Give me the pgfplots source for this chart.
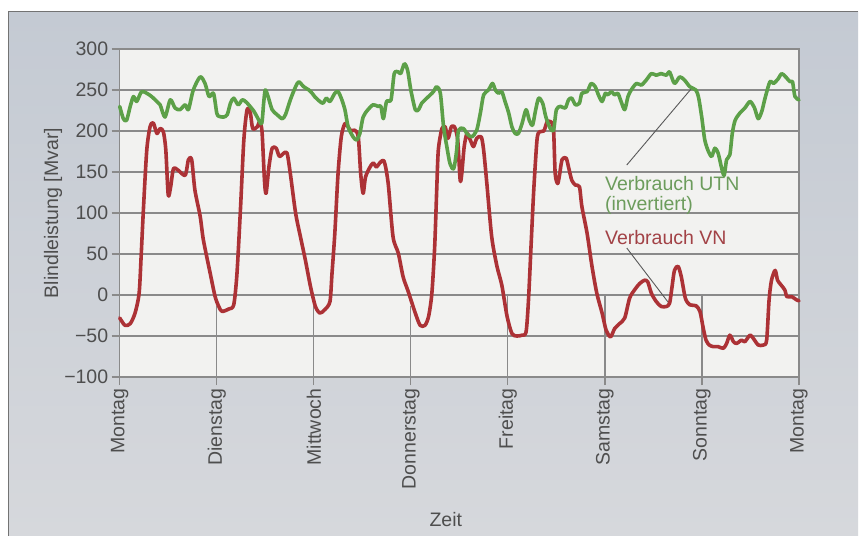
\documentclass[border=0pt]{standalone}
\usepackage{fontspec}
\setmainfont{Liberation Sans}
\usepackage{pgfplots}
\pgfplotsset{compat=1.18}
\definecolor{vngreen}{RGB}{92,160,72}
\definecolor{vnred}{RGB}{172,50,54}
\definecolor{gridc}{RGB}{138,138,138}
\definecolor{plotbg}{RGB}{242,242,240}
\definecolor{paneltop}{RGB}{196,202,211}
\definecolor{panelbot}{RGB}{214,216,220}
\definecolor{txtc}{RGB}{78,78,78}
\definecolor{gtext}{RGB}{108,156,92}
\definecolor{rtext}{RGB}{162,66,70}
\newcommand{\chartfont}{\fontsize{19.5bp}{22bp}\selectfont}
\begin{document}
\begin{tikzpicture}
\path[use as bounding box] (0,0) rectangle (861bp,536bp);
\fill[white] (0,0) rectangle (861bp,536bp);
\shade[top color=paneltop,bottom color=panelbot] (8bp,0) rectangle (858bp,524bp);
\draw[black!55, line width=1bp] (8bp,0) -- (8bp,524bp) -- (858bp,524bp);
\begin{axis}[
  at={(119.7bp,159bp)}, anchor=south west,
  scale only axis, width=679.3bp, height=328bp,
  xmin=0, xmax=168, ymin=-100, ymax=300,
  xtick={0,24,48,72,96,120,144,168},
  xticklabels={Montag,Dienstag,Mittwoch,Donnerstag,Freitag,Samstag,Sonntag,Montag},
  ytick={-100,-50,0,50,100,150,200,250,300},
  yticklabels={−100,−50,0,50,100,150,200,250,300},
  xtick pos=lower, ytick pos=left,
  ymajorgrids,
  grid style={gridc, line width=1.2bp},
  axis background/.style={fill=plotbg},
  tick align=outside, major tick length=8bp,
  axis line style={gridc, line width=1.2bp},
  tick style={gridc, line width=1.2bp},
  tick label style={color=txtc, font=\chartfont},
  xticklabel style={rotate=90, anchor=east},
  label style={color=txtc, font=\chartfont},
  ylabel={Blindleistung [Mvar]},
  ylabel style={at={(axis description cs:-0.0982,0.5)}, anchor=center, rotate=0},
  xlabel={Zeit},
  xlabel style={at={(axis description cs:0.480,-0.436)}, anchor=center},
  clip=false,
]
% vertical day lines
\addplot[gridc, line width=1.2bp] coordinates {(24,-100)(24,-14)};
\addplot[gridc, line width=1.2bp] coordinates {(48,-100)(48,-14)};
\addplot[gridc, line width=1.2bp] coordinates {(72,-100)(72,-14)};
\addplot[gridc, line width=1.2bp] coordinates {(96,-100)(96,0)};
\addplot[gridc, line width=1.2bp] coordinates {(120,-100)(120,0)};
\addplot[gridc, line width=1.2bp] coordinates {(144,-100)(144,0)};
% leader lines
\addplot[black!65, line width=0.9bp] coordinates {(125.4,158.5)(141.5,252.4)};
\addplot[black!65, line width=0.9bp] coordinates {(125.4,57.3)(135.8,-9.8)};
% Verbrauch VN
\addplot[vnred, line width=3.6bp, line join=round, line cap=round, smooth, tension=0.45] coordinates {
(0,-28)(1.3,-37)(2.6,-35)(3.8,-22)(4.8,2)(5.3,47)(5.9,108)(6.7,177)(7.5,205)(8.3,210)(9.2,197)(10.0,203)(10.8,199)(11.4,177)(12.0,122)(12.6,132)(13.3,154)(14.5,152)(16.2,146)(17.0,165)(17.8,165)(18.6,128)(19.9,96)(20.7,67)(22.4,26)(23.6,-2)(24.5,-14)(25.3,-20)(27.0,-17)(28.2,-12)(29.0,26)(29.9,108)(30.7,189)(31.5,226)(32.3,222)(32.9,203)(34.0,205)(34.6,211)(35.2,199)(35.8,140)(36.2,124)(36.9,156)(37.7,179)(38.7,179)(39.5,169)(40.6,173)(41.4,173)(42.2,148)(43.5,100)(44.7,71)(45.9,43)(47.2,10)(48.4,-14)(49.5,-22)(50.7,-18)(52.0,-8)(52.5,26)(53.2,75)(54.0,148)(54.8,193)(55.7,209)(56.5,205)(57.2,200)(58.1,201)(59.0,193)(59.6,148)(60.2,124)(60.8,144)(61.9,156)(62.7,161)(63.5,156)(64.3,161)(65.4,163)(66.4,136)(67.6,71)(68.9,51)(70.1,22)(71.3,5)(73.1,-22)(74.3,-37)(75.5,-37)(76.4,-26)(77.2,2)(77.9,59)(78.4,128)(78.8,177)(79.7,203)(80.5,205)(81.2,191)(82.0,205)(82.8,205)(83.6,189)(84.2,140)(84.6,148)(85.2,181)(85.9,197)(86.7,189)(87.5,181)(88.3,191)(89.4,193)(90.0,177)(90.8,136)(92.0,71)(93.3,35)(94.5,12)(95.8,-26)(97.0,-47)(98.2,-50)(99.5,-49)(100.5,-45)(101.1,-6)(101.8,67)(102.4,128)(103.2,189)(103.8,199)(104.9,200)(105.7,211)(106.7,211)(107.3,201)(107.7,148)(108.3,136)(108.7,144)(109.4,165)(110.4,167)(111.0,156)(111.8,140)(112.7,134)(113.7,132)(114.3,108)(115.6,75)(116.8,35)(118.0,2)(119.3,-22)(120.3,-43)(121.4,-51)(122.4,-41)(123.6,-35)(124.9,-28)(126.1,-4)(127.3,6)(128.6,14)(129.8,18)(130.6,16)(131.5,2)(132.7,-8)(133.9,-14)(135.2,-14)(136.0,-10)(136.6,10)(137.2,30)(138.1,35)(138.9,22)(139.9,-4)(141.0,-12)(142.5,-13)(143.5,-20)(144.3,-40)(145.0,-55)(145.8,-61)(146.8,-63)(148.0,-63)(149.3,-65)(150.1,-59)(150.9,-49)(151.8,-57)(152.6,-59)(153.8,-55)(154.6,-57)(155.9,-49)(157.0,-55)(157.9,-61)(159.2,-61)(160.0,-55)(160.6,-6)(161.2,18)(162.1,30)(162.7,18)(163.6,12)(164.5,6)(165.0,-2)(166.2,-2)(167.4,-6)(168,-7)
};
% Verbrauch UTN (invertiert)
\addplot[vngreen, line width=3.6bp, line join=round, line cap=round, smooth, tension=0.45] coordinates {
(0,230)(0.9,215)(1.7,213)(2.6,230)(3.4,242)(4.2,236)(5.4,248)(6.7,246)(7.9,242)(9.2,236)(10.0,232)(11.2,217)(12.5,238)(13.7,228)(14.9,226)(16.2,232)(17.0,226)(18.2,250)(19.9,266)(21.1,258)(22.1,242)(23.2,246)(24.0,222)(24.5,218)(25.7,217)(26.6,220)(27.4,234)(28.2,240)(29.3,232)(30.3,238)(31.1,236)(31.9,232)(33.2,224)(34.0,217)(35.1,209)(35.6,234)(36.0,250)(36.7,242)(37.7,226)(38.9,220)(40.2,215)(41.0,220)(42.2,238)(43.5,254)(44.3,260)(45.5,254)(46.8,250)(47.6,246)(48.2,242)(49.5,236)(50.3,234)(51.1,240)(52.0,236)(53.2,246)(54.0,248)(54.8,240)(55.7,226)(56.5,205)(57.7,193)(58.6,189)(59.4,197)(60.2,217)(61.4,226)(62.7,232)(63.9,230)(64.6,230)(65.2,215)(66.0,236)(67.1,238)(67.9,270)(68.9,272)(69.5,270)(70.4,282)(71.2,274)(72.0,250)(73.1,226)(73.9,226)(74.7,234)(75.5,238)(76.8,244)(77.6,248)(78.4,254)(79.3,246)(80.1,205)(80.9,181)(81.7,160)(82.6,154)(83.3,175)(83.8,201)(85.0,203)(86.0,196)(87.1,193)(88.3,201)(89.2,222)(90.0,244)(91.2,250)(92.2,258)(92.9,250)(93.7,246)(94.5,248)(95.3,236)(96.2,222)(97.0,205)(97.8,197)(98.6,197)(99.5,209)(100.5,226)(101.3,213)(102.1,207)(102.8,224)(103.6,240)(104.6,234)(105.4,217)(106.5,203)(107.3,201)(108.0,226)(109.0,230)(110.2,228)(111.0,238)(111.8,240)(112.7,232)(113.7,234)(114.3,246)(115.6,248)(116.6,258)(117.6,254)(118.4,244)(119.3,236)(120.1,246)(120.7,244)(121.6,248)(122.4,244)(123.2,246)(124.0,236)(124.9,226)(125.7,242)(126.5,250)(127.8,258)(129.0,256)(130.2,262)(131.5,270)(132.7,268)(133.9,270)(135.2,268)(136.0,272)(137.2,258)(138.5,266)(139.7,262)(141.0,254)(142.5,250)(143.2,240)(144.0,215)(144.7,189)(145.6,175)(146.4,169)(147.2,179)(148.0,173)(148.9,154)(149.5,146)(150.1,165)(150.9,171)(151.5,197)(152.2,213)(153.4,222)(154.6,228)(155.9,236)(157.0,228)(157.9,215)(158.8,224)(159.6,240)(160.8,260)(161.7,258)(162.9,264)(163.7,270)(164.7,266)(165.8,260)(166.4,260)(167.0,242)(168,238)
};
\node[anchor=west, inner sep=0, text=gtext, font=\chartfont] at (axis cs:120,136) {Verbrauch UTN};
\node[anchor=west, inner sep=0, text=gtext, font=\chartfont] at (axis cs:120,109) {(invertiert)};
\node[anchor=west, inner sep=0, text=rtext, font=\chartfont] at (axis cs:120,70) {Verbrauch VN};
\end{axis}
\end{tikzpicture}
\end{document}
